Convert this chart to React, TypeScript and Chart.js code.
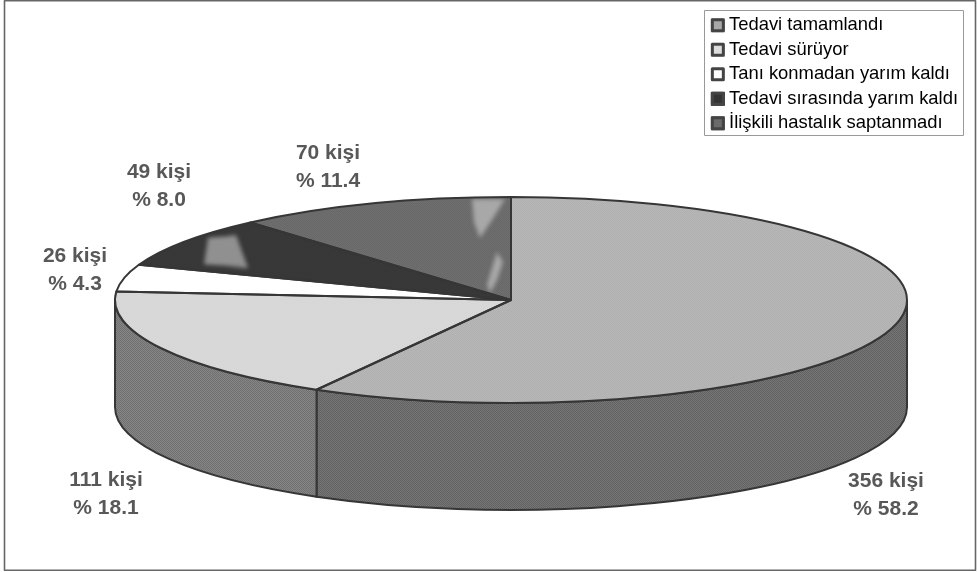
import React, { useEffect, useRef } from "react";
import { Chart, registerables } from "chart.js";

Chart.register(...registerables);

const categories = [
  "Tedavi tamamlandı",
  "Tedavi sürüyor",
  "Tanı konmadan yarım kaldı",
  "Tedavi sırasında yarım kaldı",
  "İlişkili hastalık saptanmadı",
];
const people = [356, 111, 26, 49, 70];
const percents = [58.2, 18.1, 4.3, 8.0, 11.4];

// Two-tone halftone pairs for the slice tops.
const topTones = [
  ["#c0c0c0", "#a8a8a8"],
  ["#e0e0e0", "#d0d0d0"],
  ["#ffffff", "#ffffff"],
  ["#3c3c3c", "#343434"],
  ["#787878", "#606060"],
];
const wallTones = [
  ["#767676", "#626262"],
  ["#868686", "#707070"],
];
const swatchColors = ["#a8a8a8", "#dcdcdc", "#ffffff", "#333333", "#6a6a6a"];

// Geometry of the tilted disc on the canvas.
const WIDTH = 978;
const HEIGHT = 572;
const CENTER_X = 511;
const CENTER_Y = 300;
const RADIUS = 396;
const TILT = 103 / 396;
const DEPTH = 107;
const INK = "#363636";

// Where each "n kişi / % p" caption sits, slice by slice.
const captionSpots = [
  { x: 886, y: 481 },
  { x: 106, y: 480 },
  { x: 75, y: 256 },
  { x: 159, y: 172 },
  { x: 328, y: 153 },
];
const CAPTION_LEADING = 28;

const legendFrame = { left: 704.5, top: 10.5, width: 259, height: 125 };
const SWATCH_SIZE = 14;

// Lighter worn blotches lying on the two dark slices.
const wornPatches = [
  { tones: ["#aaaaaa", "#767676"], path: [[208, 238], [236, 235], [248, 268], [204, 264]] },
  { tones: ["#b4b4b4", "#9c9c9c"], path: [[472, 199], [505, 199], [492, 220], [480, 238], [474, 222]] },
  { tones: ["#b4b4b4", "#9c9c9c"], path: [[497, 252], [503, 262], [497, 280], [490, 293], [487, 285], [492, 268]] },
];

function halftone(a: string, b: string, stretchY: number) {
  const tile = document.createElement("canvas");
  tile.width = 2;
  tile.height = 2;
  const c = tile.getContext("2d")!;
  c.fillStyle = a;
  c.fillRect(0, 0, 2, 2);
  c.fillStyle = b;
  c.fillRect(0, 0, 1, 1);
  c.fillRect(1, 1, 1, 1);
  const pattern = c.createPattern(tile, "repeat")!;
  pattern.setTransform(new DOMMatrix().scale(1, stretchY));
  return pattern;
}

// Rows of alternating tone, used for the worn blotches.
function stripes(a: string, b: string) {
  const tile = document.createElement("canvas");
  tile.width = 3;
  tile.height = 4;
  const c = tile.getContext("2d")!;
  c.fillStyle = a;
  c.fillRect(0, 0, 3, 4);
  c.fillStyle = b;
  c.fillRect(0, 0, 3, 2);
  return c.createPattern(tile, "repeat")!;
}

const discPlugin = {
  id: "tiltedDisc",
  beforeDatasetsDraw(chart: any) {
    const ctx: CanvasRenderingContext2D = chart.ctx;
    const arcs = chart.getDatasetMeta(0).data;
    const ry = RADIUS * TILT;

    // Side wall: only the part of each slice facing the viewer.
    arcs.forEach((arc: any, i: number) => {
      const from = Math.max(arc.startAngle, 0);
      const to = Math.min(arc.endAngle, Math.PI);
      if (to <= from) return;
      ctx.beginPath();
      ctx.ellipse(CENTER_X, CENTER_Y, arc.outerRadius, ry, 0, from, to);
      ctx.ellipse(CENTER_X, CENTER_Y + DEPTH, arc.outerRadius, ry, 0, to, from, true);
      ctx.closePath();
      ctx.fillStyle = halftone(wallTones[i][0], wallTones[i][1], 1);
      ctx.fill();
      ctx.strokeStyle = INK;
      ctx.lineWidth = 2;
      ctx.stroke();
    });

    ctx.save();
    ctx.translate(CENTER_X, CENTER_Y);
    ctx.scale(1, TILT);
    ctx.translate(-arcs[0].x, -arcs[0].y);
  },
  afterDatasetsDraw(chart: any) {
    const ctx: CanvasRenderingContext2D = chart.ctx;
    ctx.restore();
    const arcs = chart.getDatasetMeta(0).data;
    const ry = RADIUS * TILT;

    wornPatches.forEach((patch) => {
      ctx.save();
      ctx.filter = "blur(2px)";
      ctx.fillStyle = stripes(patch.tones[0], patch.tones[1]);
      ctx.beginPath();
      patch.path.forEach(([x, y], k) => (k ? ctx.lineTo(x, y) : ctx.moveTo(x, y)));
      ctx.closePath();
      ctx.fill();
      ctx.restore();
    });

    // Slice outlines are stroked unscaled so the line weight stays even.
    ctx.strokeStyle = INK;
    ctx.lineWidth = 2;
    ctx.lineJoin = "round";
    arcs.forEach((arc: any) => {
      ctx.beginPath();
      ctx.moveTo(CENTER_X, CENTER_Y);
      ctx.ellipse(CENTER_X, CENTER_Y, arc.outerRadius, ry, 0, arc.startAngle, arc.endAngle);
      ctx.closePath();
      ctx.stroke();
    });

    // Captions
    ctx.fillStyle = "#585858";
    ctx.font = 'bold 21px "Liberation Sans", sans-serif';
    ctx.textAlign = "center";
    ctx.textBaseline = "middle";
    people.forEach((n, i) => {
      const spot = captionSpots[i];
      ctx.fillText(`${n} kişi`, spot.x, spot.y);
      ctx.fillText(`% ${percents[i].toFixed(1)}`, spot.x, spot.y + CAPTION_LEADING);
    });

    // Legend swatches sit just left of each text, at the spot the legend reserved.
    chart.legend.legendHitBoxes.forEach((hit: any, i: number) => {
      const x = hit.left - 5;
      const y = hit.top + hit.height / 2 - SWATCH_SIZE / 2;
      ctx.fillStyle = swatchColors[i];
      ctx.fillRect(x, y, SWATCH_SIZE, SWATCH_SIZE);
      ctx.strokeStyle = "#444444";
      ctx.lineWidth = 3;
      ctx.strokeRect(x + 1.5, y + 1.5, SWATCH_SIZE - 3, SWATCH_SIZE - 3);
    });

    // Legend frame and the outer border of the figure
    ctx.strokeStyle = "#999999";
    ctx.lineWidth = 1;
    ctx.strokeRect(legendFrame.left, legendFrame.top, legendFrame.width, legendFrame.height);
    ctx.strokeStyle = "#666666";
    ctx.lineWidth = 1.6;
    ctx.strokeRect(4.5, 0.8, 971, 569.5);
  },
};

export default function App() {
  const ref = useRef<HTMLCanvasElement>(null);

  useEffect(() => {
    const chart = new Chart(ref.current!, {
      type: "pie",
      data: {
        labels: categories,
        datasets: [
          {
            data: people,
            backgroundColor: topTones.map(([a, b]) => halftone(a, b, 1 / TILT)),
            borderWidth: 0,
            clip: false,
          } as any,
        ],
      },
      plugins: [discPlugin],
      options: {
        animation: false,
        responsive: false,
        radius: RADIUS,
        layout: { padding: { top: 10, right: 10 } },
        plugins: {
          tooltip: { enabled: false },
          legend: {
            position: "right",
            align: "start",
            labels: {
              boxWidth: 4,
              boxHeight: 14,
              padding: 6.1,
              color: "#4a4a4a",
              font: { family: '"Liberation Sans", sans-serif', size: 18.4 },
              generateLabels: () =>
                categories.map((text, i) => ({
                  text,
                  fillStyle: "rgba(0,0,0,0)",
                  strokeStyle: "rgba(0,0,0,0)",
                  lineWidth: 0,
                  hidden: false,
                  index: i,
                })),
            },
          },
        },
      } as any,
    });
    return () => chart.destroy();
  }, []);

  return (
    <div style={{ position: "absolute", left: 0, top: 0, width: WIDTH, height: HEIGHT, background: "#fff" }}>
      <canvas ref={ref} width={WIDTH} height={HEIGHT} style={{ display: "block" }} />
    </div>
  );
}
